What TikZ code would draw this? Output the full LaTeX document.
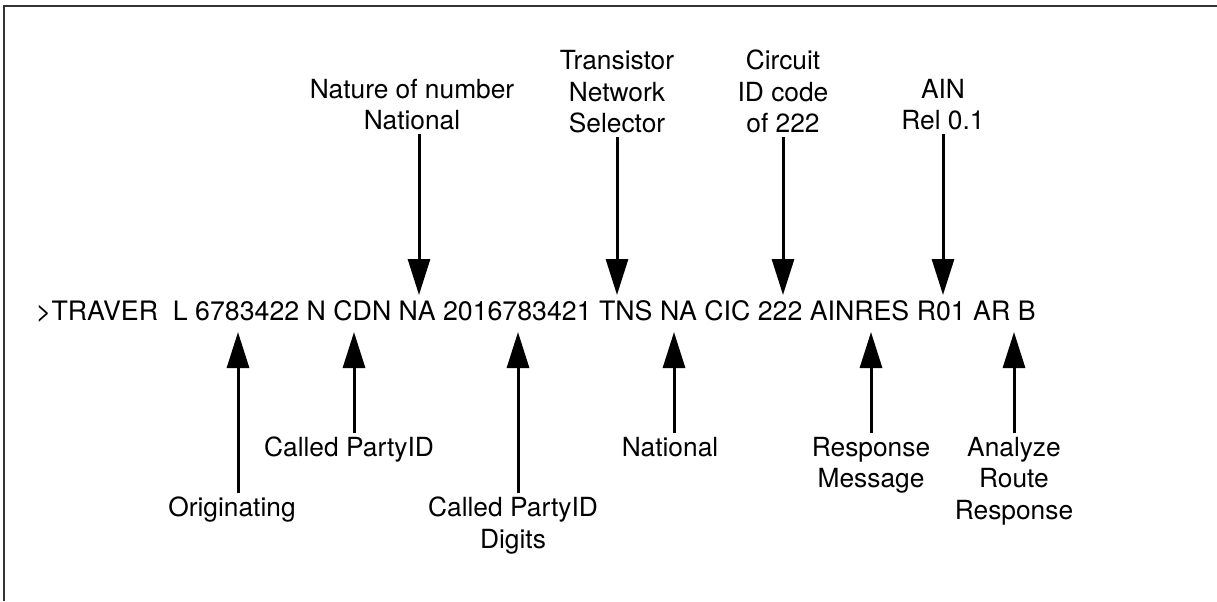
\documentclass[tikz,border=0pt]{standalone}
\usepackage{fontspec}
\setmainfont{TeX Gyre Heros}
\usetikzlibrary{arrows.meta}

\tikzset{
  field/.style={font=\fontsize{19.75}{23.6}\selectfont, align=center, inner sep=0pt, outer sep=3pt},
  pointer/.style={-{Triangle[length=27pt, width=16.5pt]}, line width=2.25pt},
}

\begin{document}
\begin{tikzpicture}[x=0.75pt, y=-0.75pt]
\useasboundingbox (0,0) rectangle (1217,601);

% Frame (only its top and left edges fall inside the picture)
\draw[line width=1.5pt, black!80] (4,601) -- (4,6) -- (1217,6);

% Command line
\node[field, font=\fontsize{20.05}{23.6}\selectfont, anchor=base west, outer sep=0pt] (cmd) at (36,320)
  {>TRAVER\ \ L 6783422 N CDN NA 2016783421 TNS NA CIC 222 AINRES R01 AR B};

% Points on the command line that the arrows reach
\coordinate (tip_nature) at (419,295);
\coordinate (tip_tns)    at (617,295);
\coordinate (tip_cic)    at (783,295);
\coordinate (tip_ain)    at (943,295);
\coordinate (tip_orig)   at (238,332);
\coordinate (tip_cpid)   at (354,332);
\coordinate (tip_digits) at (518,332);
\coordinate (tip_natl)   at (674,332);
\coordinate (tip_resp)   at (871,332);
\coordinate (tip_route)  at (1014,332);

% Labels above the line
\node[field, anchor=south] (lbl_nature) at (412,134) {Nature of number\\National};
\node[field, anchor=south] (lbl_tns)    at (617,137) {Transistor\\Network\\Selector};
\node[field, anchor=south] (lbl_cic)    at (783,137) {Circuit\\ID code\\of 222};
\node[field, anchor=south] (lbl_ain)    at (943,134) {AIN\\Rel 0.1};

\draw[pointer] (lbl_nature.south -| tip_nature) -- (tip_nature);
\draw[pointer] (lbl_tns.south -| tip_tns) -- (tip_tns);
\draw[pointer] (lbl_cic.south -| tip_cic) -- (tip_cic);
\draw[pointer] (lbl_ain.south -| tip_ain) -- (tip_ain);

% Labels below the line
\node[field, anchor=north] (lbl_orig)   at (232,493) {Originating};
\node[field, anchor=north] (lbl_cpid)   at (349,433) {Called PartyID};
\node[field, anchor=north] (lbl_digits) at (513,493) {Called PartyID\\Digits};
\node[field, anchor=north] (lbl_natl)   at (670,433) {National};
\node[field, anchor=north] (lbl_resp)   at (871,433) {Response\\Message};
\node[field, anchor=north] (lbl_route)  at (1014,433) {Analyze\\Route\\Response};

\draw[pointer] (lbl_orig.north -| tip_orig) -- (tip_orig);
\draw[pointer] (lbl_cpid.north -| tip_cpid) -- (tip_cpid);
\draw[pointer] (lbl_digits.north -| tip_digits) -- (tip_digits);
\draw[pointer] (lbl_natl.north -| tip_natl) -- (tip_natl);
\draw[pointer] (lbl_resp.north -| tip_resp) -- (tip_resp);
\draw[pointer] (lbl_route.north -| tip_route) -- (tip_route);

\end{tikzpicture}
\end{document}
